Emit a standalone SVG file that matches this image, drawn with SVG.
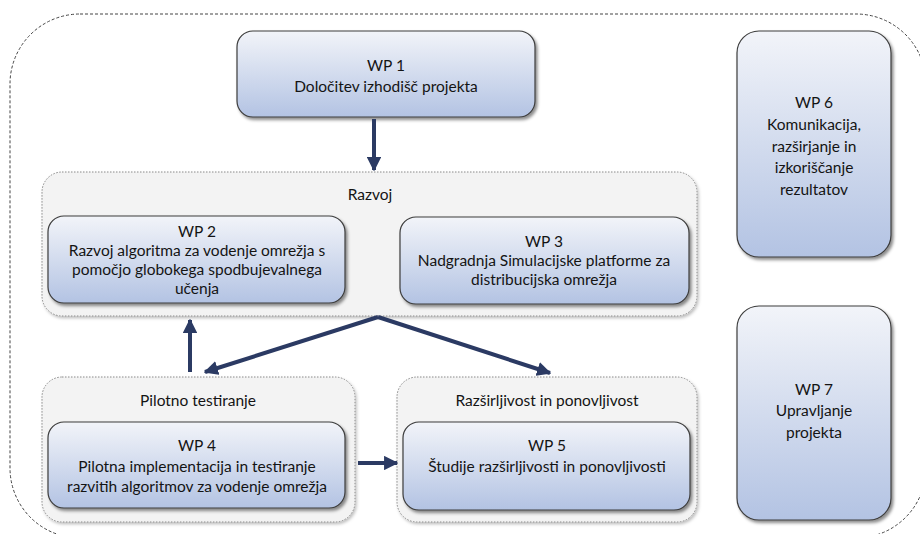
<svg xmlns="http://www.w3.org/2000/svg" width="920" height="534" viewBox="0 0 920 534">
<defs>
<linearGradient id="g" x1="0" y1="0" x2="0" y2="1">
<stop offset="0" stop-color="#f2f4f9"/>
<stop offset="1" stop-color="#b3c3e3"/>
</linearGradient>
<filter id="sh" x="-10%" y="-10%" width="125%" height="130%">
<feDropShadow dx="2" dy="2.5" stdDeviation="1.8" flood-color="#000" flood-opacity="0.45"/>
</filter>
<filter id="sh2" x="-10%" y="-10%" width="125%" height="130%">
<feDropShadow dx="1.5" dy="2" stdDeviation="1.5" flood-color="#000" flood-opacity="0.25"/>
</filter>
<marker id="ah" viewBox="0 0 10 10" refX="9" refY="5" markerWidth="3.6" markerHeight="3.6" orient="auto">
<path d="M0,0 L10,5 L0,10 z" fill="#2b3a63"/>
</marker>
<style>
.wp{fill:url(#g);stroke:#3c3c3c;stroke-width:1.2;filter:url(#sh)}
.grp{fill:#f3f3f3;stroke:#8a8a8a;stroke-width:1;stroke-dasharray:1.5 1.5;filter:url(#sh2)}
text{font-family:Lato,"Liberation Sans",sans-serif;font-size:15.5px;fill:#141414;text-anchor:middle}
.con{stroke:#2b3a63;stroke-width:4;fill:none;marker-end:url(#ah)}
</style>
</defs>
<rect x="10" y="14" width="916" height="524" rx="70" fill="none" stroke="#444" stroke-width="1" stroke-dasharray="3 2"/>

<g id="grp-razvoj"><rect class="grp" x="42" y="172" width="655" height="144" rx="20"/><text x="370" y="200">Razvoj</text></g>
<g id="grp-pilot"><rect class="grp" x="42" y="377" width="313" height="145" rx="20"/><text x="198" y="406">Pilotno testiranje</text></g>
<g id="grp-razsir"><rect class="grp" x="397" y="377" width="300" height="145" rx="20"/><text x="547" y="406">Razširljivost in ponovljivost</text></g>

<g id="wp1"><rect class="wp" x="237" y="31" width="298" height="86" rx="16"/><text x="386" y="71">WP 1</text><text x="386" y="92">Določitev izhodišč projekta</text></g>
<g id="wp2"><rect class="wp" x="48" y="216" width="297" height="87" rx="16"/><text x="197" y="237">WP 2</text><text x="197" y="256">Razvoj algoritma za vodenje omrežja s</text><text x="197" y="275">pomočjo globokega spodbujevalnega</text><text x="197" y="294">učenja</text></g>
<g id="wp3"><rect class="wp" x="400" y="217" width="289" height="87" rx="16"/><text x="544" y="247">WP 3</text><text x="544" y="266">Nadgradnja Simulacijske platforme za</text><text x="544" y="285">distribucijska omrežja</text></g>
<g id="wp4"><rect class="wp" x="48" y="422" width="297" height="86" rx="16"/><text x="197" y="451">WP 4</text><text x="197" y="472">Pilotna implementacija in testiranje</text><text x="197" y="492">razvitih algoritmov za vodenje omrežja</text></g>
<g id="wp5"><rect class="wp" x="403" y="422" width="287" height="88" rx="16"/><text x="547" y="451">WP 5</text><text x="547" y="472">Študije razširljivosti in ponovljivosti</text></g>
<g id="wp6"><rect class="wp" x="737" y="31" width="154" height="226" rx="22"/><text x="814" y="108">WP 6</text><text x="814" y="130">Komunikacija,</text><text x="814" y="152">razširjanje in</text><text x="814" y="173">izkoriščanje</text><text x="814" y="195">rezultatov</text></g>
<g id="wp7"><rect class="wp" x="737" y="306" width="154" height="214" rx="22"/><text x="814" y="395">WP 7</text><text x="814" y="416">Upravljanje</text><text x="814" y="438">projekta</text></g>

<g id="connectors">
<line class="con" x1="374" y1="119" x2="374" y2="170"/>
<line class="con" x1="190" y1="372" x2="190" y2="320"/>
<line class="con" x1="378" y1="317" x2="205" y2="372"/>
<line class="con" x1="378" y1="317" x2="550" y2="373"/>
<line class="con" x1="358" y1="463" x2="397" y2="463"/>
</g>
</svg>
